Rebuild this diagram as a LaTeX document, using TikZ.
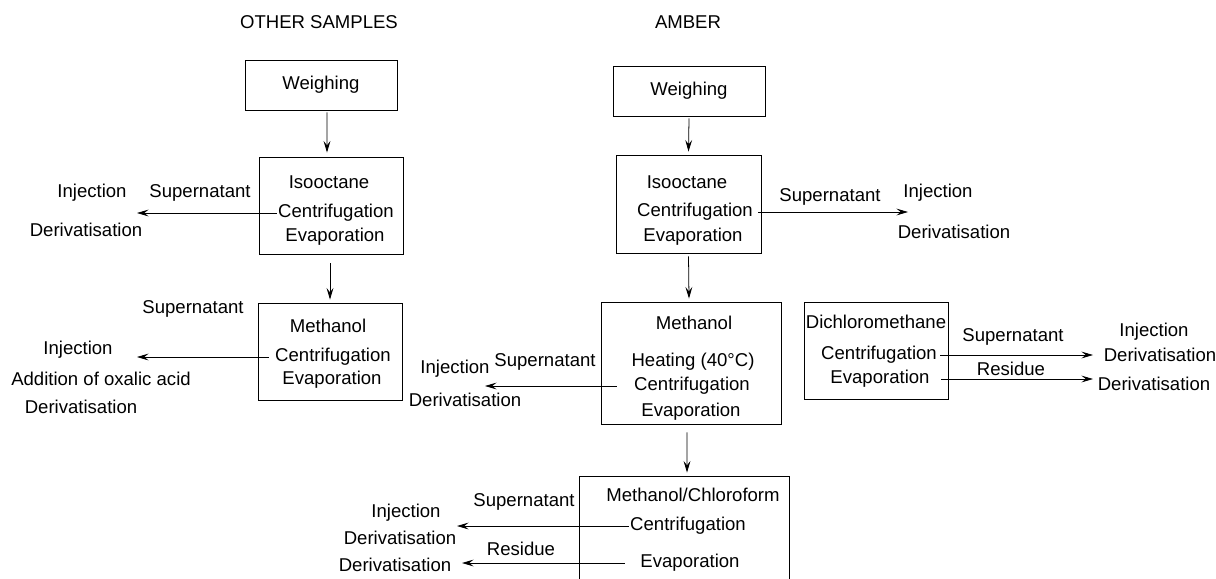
\documentclass[tikz,border=0pt]{standalone}
\usepackage{fontspec}
\setmainfont{Liberation Sans}
\usetikzlibrary{arrows.meta}

\begin{document}
\begin{tikzpicture}[
    x=0.25mm, y=-0.25mm,
    font=\fontsize{13.2pt}{15pt}\selectfont,
    box/.style={draw, line width=0.6pt, inner sep=0pt},
    txt/.style={inner sep=1pt},
    flow/.style={-{Stealth[length=2.9mm, width=1.7mm, inset=1.1mm]}, line width=0.55pt}
]

\useasboundingbox (0,0) rectangle (1216,578);

% Column headings
\node[txt] (hdother) at (319,22) {OTHER SAMPLES};
\node[txt] (hdamber) at (688,22) {AMBER};

% ---------------- Other samples ----------------
\node[box, minimum width=38mm, minimum height=12.5mm] (lwgh) at (321,85) {Weighing};

\node[box, minimum width=36mm, minimum height=24.25mm] (liso) at (331,205.5) {};
\node[txt] (lisoa) at (329,182) {Isooctane};
\node[txt] (lisob) at (336,213) {Centrifugation};
\node[txt] (lisoc) at (335,237) {Evaporation};

\node[box, minimum width=36mm, minimum height=24.25mm] (lmeth) at (330,351.5) {};
\node[txt] (lmetha) at (328,326) {Methanol};
\node[txt] (lmethb) at (333,357) {Centrifugation};
\node[txt] (lmethc) at (332,380) {Evaporation};

% outputs to the left
\node[txt] (lsup1) at (200,193) {Supernatant};
\node[txt] (linj1) at (92,193) {Injection};
\node[txt] (lder1) at (86,230) {Derivatisation};
\coordinate (lend1) at (137,213);

\node[txt] (lsup2) at (193,309) {Supernatant};
\node[txt] (linj2) at (78,350) {Injection};
\node[txt] (lox) at (101,379) {Addition of oxalic acid};
\node[txt] (lder2) at (81,407) {Derivatisation};
\coordinate (lend2) at (137,357);

\draw[flow] ([xshift=1.5mm, yshift=-0.5mm]lwgh.south) -- ([xshift=-1mm, yshift=1mm]liso.north);
\draw[flow] ([xshift=-0.25mm, yshift=-2.25mm]liso.south) -- ([yshift=0.75mm]lmeth.north);
\draw[flow] (lisob.west) -- (lisob.west -| lend1);
\draw[flow] ([xshift=-1.25mm]lmethb.west) -- (lmethb.west -| lend2);

% ---------------- Amber ----------------
\node[box, minimum width=38mm, minimum height=12.5mm] (awgh) at (689,91) {Weighing};

\node[box, minimum width=36.25mm, minimum height=24.5mm] (aiso) at (688.5,204) {};
\node[txt] (aisoa) at (687,182) {Isooctane};
\node[txt] (aisob) at (695,212) {Centrifugation};
\node[txt] (aisoc) at (693,237) {Evaporation};

\node[txt] (asup1) at (830,197) {Supernatant};
\node[txt] (ainj1) at (938,193) {Injection};
\node[txt] (ader1) at (954,232) {Derivatisation};
\coordinate (aend1) at (908,212);

\node[box, minimum width=45mm, minimum height=30.5mm] (ameth) at (691,363) {};
\node[txt] (ametha) at (694,323) {Methanol};
\node[txt] (amethb) at (693,362) {Heating (40°C)};
\node[txt] (amethc) at (692,386) {Centrifugation};
\node[txt] (amethd) at (691,412) {Evaporation};

\node[txt] (asup2) at (545,362) {Supernatant};
\node[txt] (ainj2) at (455,369) {Injection};
\node[txt] (ader2) at (465,400) {Derivatisation};
\coordinate (aend2) at (485,384);

% dichloromethane step
\node[box, minimum width=36mm, minimum height=24.25mm] (adcm) at (876,350.5) {};
\node[txt] (adcma) at (876,322) {Dichloromethane};
\node[txt] (adcmb) at (879,355) {Centrifugation};
\node[txt] (adcmc) at (880,379) {Evaporation};

\node[txt] (asup3) at (1013,337) {Supernatant};
\node[txt] (ares3) at (1011,369) {Residue};
\node[txt] (ainj3) at (1154,332) {Injection};
\node[txt] (ader3) at (1160,355) {Derivatisation};
\node[txt] (ader4) at (1154,384) {Derivatisation};
\coordinate (aend3) at (1093,351);

% methanol/chloroform step (runs off the bottom)
\node[box, minimum width=52.5mm, minimum height=60mm] (amc) at (684,596) {};
\node[txt] (amca) at (693,495) {Methanol/Chloroform};
\node[txt] (amcb) at (688,526) {Centrifugation};
\node[txt] (amcc) at (690,563) {Evaporation};

\node[txt] (asup4) at (524,502) {Supernatant};
\node[txt] (ares4) at (521,549) {Residue};
\node[txt] (ainj4) at (406,513) {Injection};
\node[txt] (ader5) at (400,538) {Derivatisation};
\node[txt] (ader6) at (395,565) {Derivatisation};
\coordinate (aend4) at (457,523);
\coordinate (aend5) at (462,563);

\draw[flow] ([yshift=-0.5mm]awgh.south) -- ([yshift=0.75mm]aiso.north);
\draw[flow] ([yshift=-0.75mm]aiso.south) -- ([xshift=-0.5mm, yshift=0.75mm]ameth.north);
\draw[flow] ([xshift=-1mm, yshift=-2mm]ameth.south) -- ([xshift=0.75mm, yshift=0.75mm]amc.north);

\draw[flow] ([xshift=1mm]aisob.east) -- (aisob.east -| aend1);
\draw[flow] ([xshift=-4mm]amethc.west) -- (amethc.west -| aend2);
\draw[flow] ([xshift=0.5mm]adcmb.east) -- (adcmb.east -| aend3);
\draw[flow] ([xshift=2.5mm]adcmc.east) -- (adcmc.east -| aend3);
\draw[flow] (amcb.west) -- (amcb.west -| aend4);
\draw[flow] ([xshift=-3.5mm]amcc.west) -- (amcc.west -| aend5);

\end{tikzpicture}
\end{document}
